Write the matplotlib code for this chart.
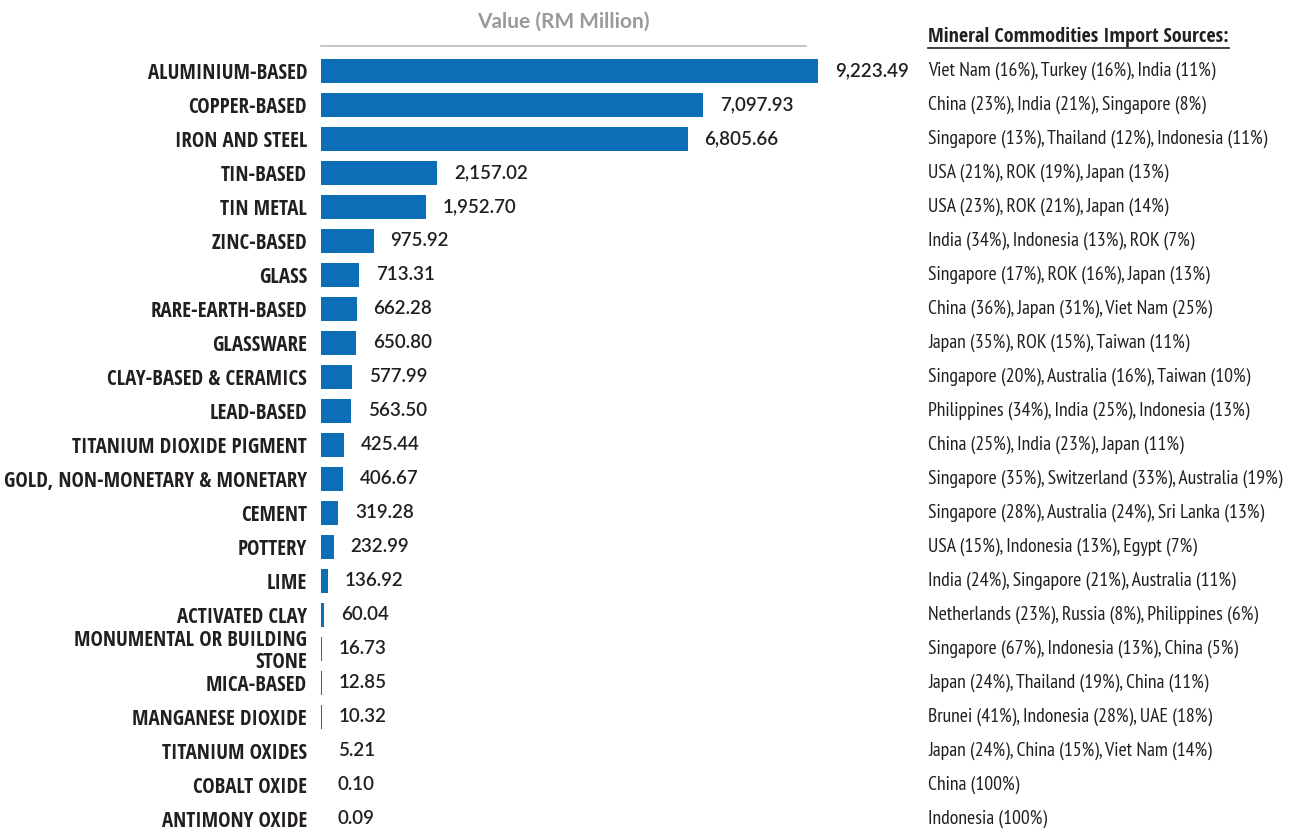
import matplotlib.pyplot as plt
import matplotlib.transforms as mtransforms
import numpy as np

categories = [
    'ALUMINIUM-BASED', 'COPPER-BASED', 'IRON AND STEEL', 'TIN-BASED', 'TIN METAL',
    'ZINC-BASED', 'GLASS', 'RARE-EARTH-BASED', 'GLASSWARE', 'CLAY-BASED & CERAMICS',
    'LEAD-BASED', 'TITANIUM DIOXIDE PIGMENT', 'GOLD, NON-MONETARY & MONETARY', 'CEMENT',
    'POTTERY', 'LIME', 'ACTIVATED CLAY', 'MONUMENTAL OR BUILDING\nSTONE', 'MICA-BASED',
    'MANGANESE DIOXIDE', 'TITANIUM OXIDES', 'COBALT OXIDE', 'ANTIMONY OXIDE',
]

values = [9223.49, 7097.93, 6805.66, 2157.02, 1952.70, 975.92, 713.31, 662.28, 650.80,
          577.99, 563.50, 425.44, 406.67, 319.28, 232.99, 136.92, 60.04, 16.73, 12.85,
          10.32, 5.21, 0.10, 0.09]

sources = [
    'Viet Nam (16%), Turkey (16%), India (11%)',
    'China (23%), India (21%), Singapore (8%)',
    'Singapore (13%), Thailand (12%), Indonesia (11%)',
    'USA (21%), ROK (19%), Japan (13%)',
    'USA (23%), ROK (21%), Japan (14%)',
    'India (34%), Indonesia (13%), ROK (7%)',
    'Singapore (17%), ROK (16%), Japan (13%)',
    'China (36%), Japan (31%), Viet Nam (25%)',
    'Japan (35%), ROK (15%), Taiwan (11%)',
    'Singapore (20%), Australia (16%), Taiwan (10%)',
    'Philippines (34%), India (25%), Indonesia (13%)',
    'China (25%), India (23%), Japan (11%)',
    'Singapore (35%), Switzerland (33%), Australia (19%)',
    'Singapore (28%), Australia (24%), Sri Lanka (13%)',
    'USA (15%), Indonesia (13%), Egypt (7%)',
    'India (24%), Singapore (21%), Australia (11%)',
    'Netherlands (23%), Russia (8%), Philippines (6%)',
    'Singapore (67%), Indonesia (13%), China (5%)',
    'Japan (24%), Thailand (19%), China (11%)',
    'Brunei (41%), Indonesia (28%), UAE (18%)',
    'Japan (24%), China (15%), Viet Nam (14%)',
    'China (100%)',
    'Indonesia (100%)',
]

BAR = '#0d6eb8'
TXT = '#231f20'
NARROW_B = ['Open Sans Condensed', 'PT Sans Narrow', 'DejaVu Sans']
NARROW = ['PT Sans Narrow', 'Fira Sans Condensed', 'DejaVu Sans']
NUM = ['Lato', 'DejaVu Sans']

W, H = 1289, 836
fig = plt.figure(figsize=(W / 100, H / 100), dpi=100)
ax = fig.add_axes([321 / W, 0 / H, 497 / W, 782 / H])

y = np.arange(len(categories))
ax.barh(y, values, height=0.7, color=BAR)
ax.set_xlim(0, max(values))
ax.set_ylim(len(categories) - 0.5, -0.5)

ax.set_yticks(y)
ax.set_yticklabels(categories, family=NARROW_B, fontweight='bold', fontsize=15,
                   color=TXT, linespacing=1.0)
ax.tick_params(axis='y', length=0, pad=10)
ax.set_xticks([])
for s in ax.spines.values():
    s.set_visible(False)

for yi, v in zip(y, values):
    ax.annotate(f'{v:,.2f}', (v, yi), xytext=(12, 0), textcoords='offset points',
                va='center', ha='left', family=NUM, fontsize=13.5, color=TXT,
                fontweight='semibold', annotation_clip=False)

# import sources column
trans = mtransforms.blended_transform_factory(fig.transFigure, ax.transData)
for yi, s in zip(y, sources):
    ax.text(928 / W, yi, s, transform=trans, va='center', ha='left',
            family=NARROW, fontsize=14.2, color=TXT)

# title and rule
fig.text(563 / W, 1 - 22 / H, 'Value (RM Million)', ha='center', va='center',
         family=NUM, fontweight='bold', fontsize=15, color='#9a9a9a')
fig.add_artist(plt.Line2D([321 / W, 806 / W], [1 - 46 / H, 1 - 46 / H],
                          color='#bdbdbd', lw=1.2))

hdr = fig.text(928 / W, 1 - 37 / H, 'Mineral Commodities Import Sources:', ha='left',
               va='center', family=NARROW_B, fontweight='bold', fontsize=14.5, color=TXT)
fig.canvas.draw()
bb = hdr.get_window_extent().transformed(fig.transFigure.inverted())
fig.add_artist(plt.Line2D([bb.x0, bb.x1], [bb.y0 - 1 / H, bb.y0 - 1 / H],
                          color=TXT, lw=1.2))

fig.savefig('out.png', dpi=100)
